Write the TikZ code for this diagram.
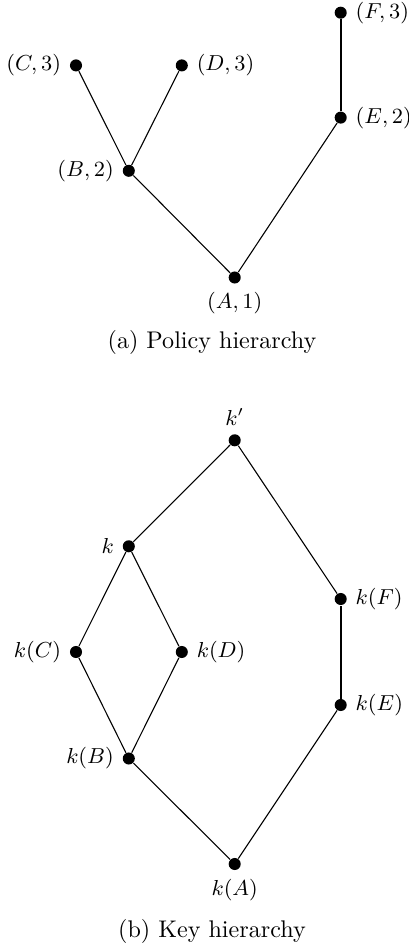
\documentclass[tikz,border=0pt]{standalone}
\begin{document}
\begin{tikzpicture}[x=0.41494pt,y=-0.41494pt,
  dot/.style={circle,fill=black,inner sep=0pt,minimum size=5pt},
  every label/.style={font=\small},
  edge/.style={line width=0.45pt},
  heavyedge/.style={line width=0.9pt},
  caption/.style={anchor=base,font=\normalsize}]
\useasboundingbox (0,0) rectangle (409,944);
% (a) Policy hierarchy
\node[dot,label=left:{$(C,3)$}]  (C) at (76,65.4) {};
\node[dot,label=right:{$(D,3)$}] (D) at (181.8,65.4) {};
\node[dot,label=left:{$(B,2)$}]  (B) at (128.8,170.8) {};
\node[dot,label=below:{$(A,1)$}] (A) at (234.7,277.5) {};
\node[dot,label=right:{$(E,2)$}] (E) at (340.7,117.6) {};
\node[dot,label=right:{$(F,3)$}] (F) at (340.7,12.7) {};
\draw[edge] (C) -- (B);
\draw[edge] (D) -- (B);
\draw[edge] (B) -- (A);
\draw[edge] (A) -- (E);
\draw[heavyedge] (E) -- (F);
\node[caption] (capa) at (212,348) {(a) Policy hierarchy};
% (b) Key hierarchy
\node[dot,label=above:{$k'$}]     (kp) at (234.7,440.3) {};
\node[dot,label=left:{$k$}]       (k)  at (128.8,546.3) {};
\node[dot,label=right:{$k(F)$}]   (kF) at (340.7,599) {};
\node[dot,label=left:{$k(C)$}]    (kC) at (76,652) {};
\node[dot,label=right:{$k(D)$}]   (kD) at (181.8,652) {};
\node[dot,label=right:{$k(E)$}]   (kE) at (340.7,705) {};
\node[dot,label=left:{$k(B)$}]    (kB) at (128.8,758.5) {};
\node[dot,label=below:{$k(A)$}]   (kA) at (234.7,864) {};
\draw[edge] (kp) -- (k);
\draw[edge] (kp) -- (kF);
\draw[edge] (k) -- (kC);
\draw[edge] (k) -- (kD);
\draw[edge] (kC) -- (kB);
\draw[edge] (kD) -- (kB);
\draw[edge] (kB) -- (kA);
\draw[edge] (kA) -- (kE);
\draw[heavyedge] (kE) -- (kF);
\node[caption] (capb) at (212,937.5) {(b) Key hierarchy};
\end{tikzpicture}
\end{document}
